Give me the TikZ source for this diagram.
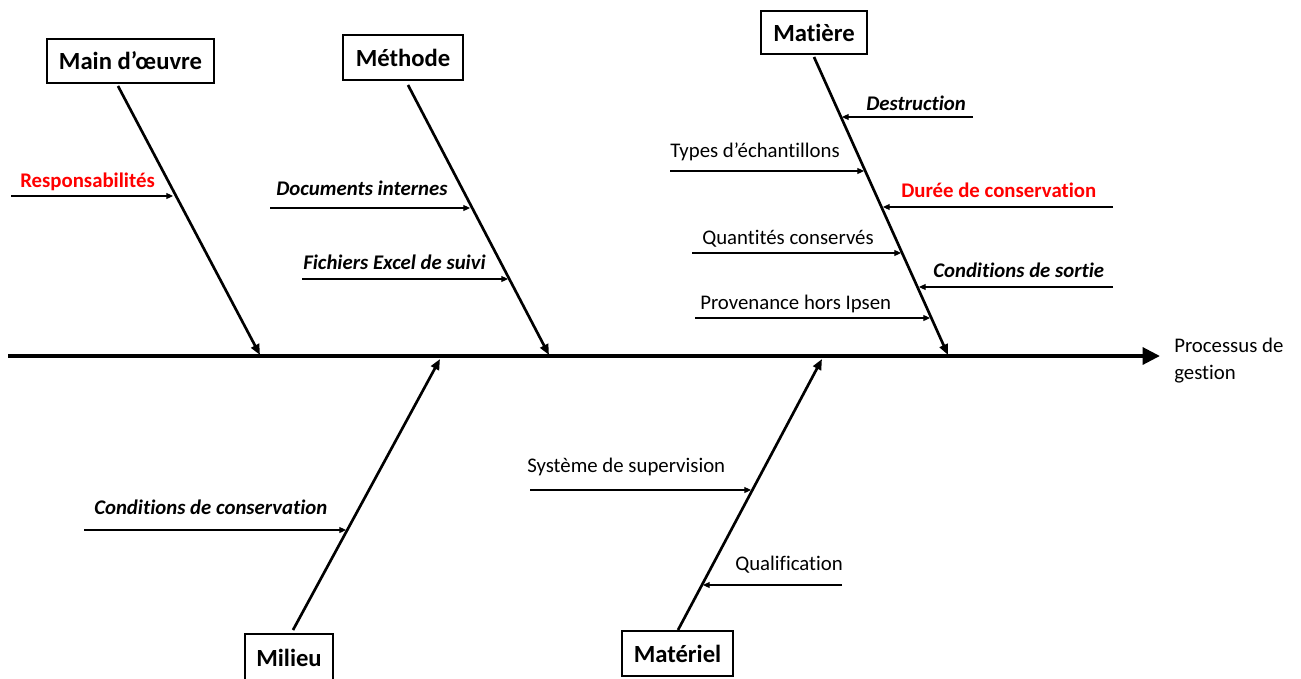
\documentclass[tikz,border=0pt]{standalone}
\usepackage{fontspec}
\setmainfont{Carlito}[Ligatures=NoCommon]
\usetikzlibrary{arrows.meta}
\newdimen\px \px=0.75pt
\definecolor{lblred}{RGB}{255,0,0}
\tikzset{
  x=0.75pt, y=-0.75pt,
  catbox/.style={draw=black, line width=0.8pt, inner sep=0pt, font=\fontsize{18.5}{22}\selectfont\bfseries},
  lbl/.style={anchor=base west, inner sep=0pt, font=\fontsize{15.6}{19}\selectfont},
  lblbi/.style={lbl, font=\fontsize{15.6}{19}\selectfont\bfseries\itshape},
  lblred/.style={lbl, text=lblred, font=\fontsize{15.6}{19}\selectfont\bfseries},
  spine/.style={line width=3pt, -{Triangle[length=13pt,width=12.5pt]}},
  bone/.style={line width=2pt, -{Triangle[length=8pt,width=6.5pt]}},
  sub/.style={line width=0.8pt, -{Triangle[length=5pt,width=4.5pt]}}
}
\begin{document}
\begin{tikzpicture}
\useasboundingbox (0,0) rectangle (1301,678);

% spine
\coordinate (sp0) at (8,356);
\coordinate (sp1) at (1160,356);
\draw[spine] (sp0) -- (sp1);
\node[lbl, align=left, font=\fontsize{15.6}{20}\selectfont, anchor=north west] (proc) at (1174,338) {Processus de\\gestion};

% category boxes
\node[catbox, minimum width=167\px, minimum height=44\px] (mo) at (130.5,61) {Main d’œuvre};
\node[catbox, minimum width=120\px, minimum height=45\px] (me) at (403,57.5) {Méthode};
\node[catbox, minimum width=106\px, minimum height=43\px] (ma) at (814,32.5) {Matière};
\node[catbox, minimum width=88\px, minimum height=47\px] (mi) at (289,657.5) {Milieu};
\node[catbox, minimum width=111\px, minimum height=45\px] (mt) at (677.5,653.5) {Matériel};

% bone end points
\coordinate (moA) at (118,86);  \coordinate (moB) at (260,355);
\coordinate (meA) at (408,85);  \coordinate (meB) at (549,355);
\coordinate (maA) at (814,57);  \coordinate (maB) at (948,355);
\coordinate (miA) at (293,630); \coordinate (miB) at (440,359);
\coordinate (mtA) at (678,630); \coordinate (mtB) at (822,359);

\draw[bone] (moA) -- (moB);
\draw[bone] (meA) -- (meB);
\draw[bone] (maA) -- (maB);
\draw[bone] (miA) -- (miB);
\draw[bone] (mtA) -- (mtB);

% Main d'oeuvre
\coordinate (r0) at (11,196); \coordinate (r1) at (173,196);
\draw[sub] (r0) -- (r1);
\node[lblred] (t_resp) at (20,187) {Responsabilités};

% Methode
\coordinate (d0) at (270,208); \coordinate (d1) at (470,208);
\draw[sub] (d0) -- (d1);
\node[lblbi] (t_doc) at (276,195) {Documents internes};
\coordinate (f0) at (302,279); \coordinate (f1) at (508,279);
\draw[sub] (f0) -- (f1);
\node[lblbi] (t_fich) at (303,269) {Fichiers Excel de suivi};

% Matiere
\coordinate (de0) at (973,117); \coordinate (de1) at (842,117);
\draw[sub] (de0) -- (de1);
\node[lblbi] (t_dest) at (866,110) {Destruction};
\coordinate (ty0) at (670,171); \coordinate (ty1) at (864,171);
\draw[sub] (ty0) -- (ty1);
\node[lbl] (t_types) at (670,157) {Types d’échantillons};
\coordinate (du0) at (1113,207); \coordinate (du1) at (883,207);
\draw[sub] (du0) -- (du1);
\node[lblred] (t_duree) at (901,197) {Durée de conservation};
\coordinate (qu0) at (692,253); \coordinate (qu1) at (901,253);
\draw[sub] (qu0) -- (qu1);
\node[lbl] (t_quant) at (702,244) {Quantités conservés};
\coordinate (cs0) at (1113,287); \coordinate (cs1) at (919,287);
\draw[sub] (cs0) -- (cs1);
\node[lblbi] (t_sort) at (933,277) {Conditions de sortie};
\coordinate (pr0) at (695,318); \coordinate (pr1) at (930,318);
\draw[sub] (pr0) -- (pr1);
\node[lbl] (t_prov) at (700,309) {Provenance hors Ipsen};

% Milieu
\coordinate (cc0) at (84,530); \coordinate (cc1) at (346,530);
\draw[sub] (cc0) -- (cc1);
\node[lblbi] (t_cons) at (94,514) {Conditions de conservation};

% Materiel
\coordinate (sy0) at (530,490); \coordinate (sy1) at (751,490);
\draw[sub] (sy0) -- (sy1);
\node[lbl] (t_sys) at (527,472) {Système de supervision};
\coordinate (ql0) at (842,585); \coordinate (ql1) at (703,585);
\draw[sub] (ql0) -- (ql1);
\node[lbl] (t_qual) at (735,570) {Qualification};
\end{tikzpicture}
\end{document}
